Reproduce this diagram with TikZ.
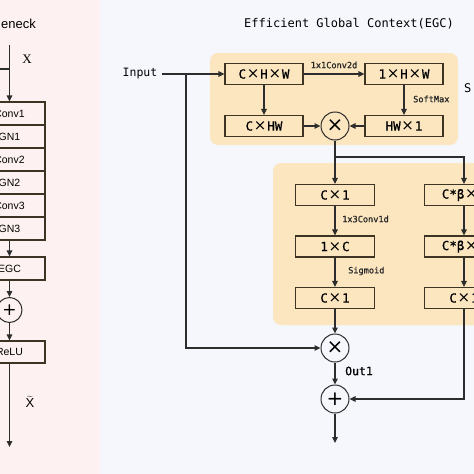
\documentclass[tikz,border=0pt]{standalone}
\usepackage{fontspec}
\setmainfont{Liberation Sans}
\newfontfamily\monof{DejaVu Sans Mono}
\newfontfamily\monob[FakeBold=0.8]{DejaVu Sans Mono}
\newfontfamily\serf{Liberation Serif}
\newfontfamily\timesf{DejaVu Sans}
\usetikzlibrary{arrows.meta}
\definecolor{pinkbg}{RGB}{253,242,241}
\definecolor{bluebg}{RGB}{245,247,252}
\definecolor{regbg}{RGB}{252,230,192}
\definecolor{boxline}{RGB}{62,52,36}
\definecolor{lnc}{RGB}{45,45,45}
\newcommand{\tms}{\hspace{0.8pt}{\timesf\fontsize{15}{13}\selectfont ×}\hspace{0.8pt}}
\tikzset{
  lbox/.style={draw=boxline, line width=1.1pt, minimum width=71pt, minimum height=23pt, inner sep=0pt, font=\fontsize{10.5}{12}\selectfont},
  rbox/.style={draw=boxline, line width=1.1pt, minimum width=78pt, minimum height=21pt, inner sep=0pt, font=\monob\fontsize{12.5}{13}\selectfont},
  opc/.style={draw=lnc, line width=1pt, circle, minimum size=28pt, inner sep=0pt, font=\timesf\fontsize{20}{20}\selectfont},
  lopc/.style={opc, minimum size=25pt, font=\timesf\fontsize{17}{17}\selectfont},
  arr/.style={draw=lnc, line width=1.1pt, -{Triangle[length=6pt,width=5.5pt]}},
  ln/.style={draw=lnc, line width=1.1pt},
  smalllab/.style={font=\monob\fontsize{8.6}{10}\selectfont, text=black!85, inner sep=0pt},
  region/.style={fill=regbg, rounded corners=8pt, draw=none}
}
\begin{document}
\begin{tikzpicture}[x=1pt,y=-1pt]
\useasboundingbox (0,0) rectangle (474,474);
\fill[bluebg] (0,0) rectangle (474,474);
\fill[pinkbg] (0,0) rectangle (100,474);
\clip (0,0) rectangle (474,474);
% ---------------- left panel ----------------
\node[anchor=west, font=\fontsize{13}{15}\selectfont, inner sep=0pt] (eneck) at (1,24) {eneck};
\coordinate (xtop) at (9.5,45);
\coordinate (xbr) at (9.5,69);
\coordinate (xbl) at (-2,69);
\node[font=\serf\fontsize{13}{15}\selectfont, inner sep=0pt] (xlab) at (27,59) {X};
\node[lbox] (conv1) at (9.5,113.5) {Conv1};
\node[lbox] (gn1) at (9.5,136.5) {GN1};
\node[lbox] (conv2) at (9.5,159.5) {Conv2};
\node[lbox] (gn2) at (9.5,182.5) {GN2};
\node[lbox] (conv3) at (9.5,205.5) {Conv3};
\node[lbox] (gn3) at (9.5,228.5) {GN3};
\node[lbox] (egcb) at (9.5,268.5) {EGC};
\node[lopc] (ladd) at (9.5,310) {+};
\node[lbox, minimum height=22pt] (relu) at (9.5,352) {ReLU};
\coordinate (lout) at (9.5,447);
\node[inner sep=0pt, font=\fontsize{13}{15}\selectfont] (xt) at (30,402) {$\widetilde{\mathrm{X}}$};
\draw[ln] (xbl) -- (xbr);
\draw[arr] (xtop) -- (conv1.north);
\draw[arr] (gn3.south) -- (egcb.north);
\draw[arr] (egcb.south) -- (ladd.north);
\draw[arr] (ladd.south) -- (relu.north);
\draw[arr] (relu.south) -- (lout);
% ---------------- right panel ----------------
\node[font=\monof\fontsize{12}{14}\selectfont, inner sep=0pt] (title) at (349,24) {Efficient Global Context(EGC)};
\fill[region] (210,53) rectangle (458,145);
\fill[region] (273,163) rectangle (495,325);
\node[font=\monof\fontsize{11.5}{13}\selectfont, inner sep=0pt] (inp) at (140,74) {Input};
\node[rbox] (chw) at (264,74) {C\tms H\tms W};
\node[rbox] (chw2) at (264,126) {C\tms HW};
\node[opc] (mul1) at (335,126) {×};
\node[rbox] (ohw) at (404,74) {1\tms H\tms W};
\node[rbox] (hw1) at (404,126) {HW\tms 1};
\node[smalllab] (l1) at (334,65) {1x1Conv2d};
\node[smalllab, anchor=west] (l2) at (413,99) {SoftMax};
\node[font=\monof\fontsize{12}{14}\selectfont, anchor=west, inner sep=0pt] (sl) at (464,88) {S};
\coordinate (inj) at (186,75);
\coordinate (br) at (335,157);
\coordinate (brr) at (464,157);
\node[rbox, minimum width=79pt] (c1a) at (335,195) {C\tms 1};
\node[rbox, minimum width=79pt] (c1b) at (335,246.5) {1\tms C};
\node[rbox, minimum width=79pt] (c1c) at (335,298) {C\tms 1};
\node[rbox, minimum width=79pt] (rb1) at (464,195) {C*β\tms 1};
\node[rbox, minimum width=79pt] (rb2) at (464,246.5) {C*β\tms 1};
\node[rbox, minimum width=79pt] (rb3) at (464,298) {C\tms 1};
\node[smalllab, anchor=west] (l3) at (342,219) {1x3Conv1d};
\node[smalllab, anchor=west] (l4) at (348,271) {Sigmoid};
\node[opc] (mul2) at (335,348) {×};
\node[font=\monob\fontsize{11.5}{13}\selectfont, anchor=west, inner sep=0pt] (o1) at (345,371) {Out1};
\node[opc] (add) at (335,399) {+};
\coordinate (rout) at (335,443);
\coordinate (inl) at (186,348);
\coordinate (rbl) at (464,399);
\draw[arr] (inp.east) ++(4,0) -- (chw.west);
\draw[arr] (chw.south) -- (chw2.north);
\draw[arr] (chw.east) -- (ohw.west);
\draw[arr] (ohw.south) -- (hw1.north);
\draw[arr] (chw2.east) -- (mul1.west);
\draw[arr] (hw1.west) -- (mul1.east);
\draw[ln] (mul1.south) -- (br);
\draw[arr] (br) -- (c1a.north);
\draw[arr] (br) -- (brr) -- (rb1.north);
\draw[arr] (c1a.south) -- (c1b.north);
\draw[arr] (c1b.south) -- (c1c.north);
\draw[arr] (rb1.south) -- (rb2.north);
\draw[arr] (rb2.south) -- (rb3.north);
\draw[arr] (c1c.south) -- (mul2.north);
\draw[arr] (inj) -- (inl) -- (mul2.west);
\draw[arr] (mul2.south) -- (add.north);
\draw[arr] (rb3.south) -- (rbl) -- (add.east);
\draw[arr] (add.south) -- (rout);
\end{tikzpicture}
\end{document}
